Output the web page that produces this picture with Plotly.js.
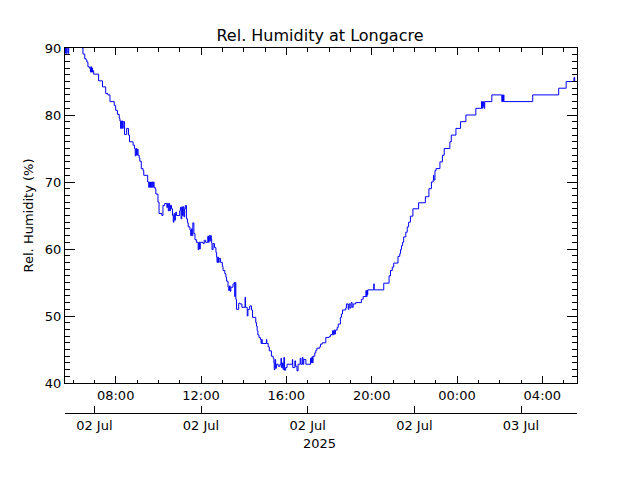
<!DOCTYPE html>
<html>
<head>
<meta charset="utf-8">
<script src="https://cdn.plot.ly/plotly-3.0.1.min.js"></script>
<style>html,body{margin:0;padding:0;background:#fff}#chart{width:640px;height:480px}</style>
</head>
<body>
<div id="chart"></div>
<script>
const times = [
'2025-07-02 05:37','2025-07-02 05:39','2025-07-02 05:41','2025-07-02 05:43','2025-07-02 05:46','2025-07-02 05:48',
'2025-07-02 06:25','2025-07-02 06:28','2025-07-02 06:33','2025-07-02 06:37','2025-07-02 06:39','2025-07-02 06:42',
'2025-07-02 06:46','2025-07-02 06:49','2025-07-02 06:50','2025-07-02 06:52','2025-07-02 06:53','2025-07-02 06:55',
'2025-07-02 06:56','2025-07-02 06:58','2025-07-02 07:12','2025-07-02 07:23','2025-07-02 07:32','2025-07-02 07:38',
'2025-07-02 07:44','2025-07-02 07:56','2025-07-02 08:00','2025-07-02 08:05','2025-07-02 08:10','2025-07-02 08:12',
'2025-07-02 08:14','2025-07-02 08:15','2025-07-02 08:17','2025-07-02 08:18','2025-07-02 08:20','2025-07-02 08:21',
'2025-07-02 08:25','2025-07-02 08:31','2025-07-02 08:36','2025-07-02 08:39','2025-07-02 08:49','2025-07-02 08:53',
'2025-07-02 08:55','2025-07-02 08:57','2025-07-02 08:59','2025-07-02 09:01','2025-07-02 09:03','2025-07-02 09:06',
'2025-07-02 09:08','2025-07-02 09:12','2025-07-02 09:17','2025-07-02 09:19','2025-07-02 09:30','2025-07-02 09:33',
'2025-07-02 09:35','2025-07-02 09:38','2025-07-02 09:41','2025-07-02 09:44','2025-07-02 09:46','2025-07-02 09:48',
'2025-07-02 09:51','2025-07-02 09:53','2025-07-02 09:59','2025-07-02 10:02','2025-07-02 10:10','2025-07-02 10:13',
'2025-07-02 10:18','2025-07-02 10:24','2025-07-02 10:26','2025-07-02 10:28','2025-07-02 10:30','2025-07-02 10:32',
'2025-07-02 10:34','2025-07-02 10:37','2025-07-02 10:40','2025-07-02 10:42','2025-07-02 10:44','2025-07-02 10:46',
'2025-07-02 10:48','2025-07-02 10:49','2025-07-02 10:51','2025-07-02 11:00','2025-07-02 11:02','2025-07-02 11:04',
'2025-07-02 11:06','2025-07-02 11:08','2025-07-02 11:10','2025-07-02 11:12','2025-07-02 11:14','2025-07-02 11:16',
'2025-07-02 11:19','2025-07-02 11:22','2025-07-02 11:24','2025-07-02 11:29','2025-07-02 11:31','2025-07-02 11:33',
'2025-07-02 11:35','2025-07-02 11:37','2025-07-02 11:40','2025-07-02 11:43','2025-07-02 11:47','2025-07-02 11:52',
'2025-07-02 11:54','2025-07-02 11:56','2025-07-02 11:58','2025-07-02 12:06','2025-07-02 12:09','2025-07-02 12:13',
'2025-07-02 12:19','2025-07-02 12:21','2025-07-02 12:23','2025-07-02 12:25','2025-07-02 12:27','2025-07-02 12:29',
'2025-07-02 12:30','2025-07-02 12:31','2025-07-02 12:34','2025-07-02 12:38','2025-07-02 12:42','2025-07-02 12:44',
'2025-07-02 12:45','2025-07-02 12:47','2025-07-02 12:49','2025-07-02 12:51','2025-07-02 12:55','2025-07-02 13:00',
'2025-07-02 13:02','2025-07-02 13:07','2025-07-02 13:10','2025-07-02 13:12','2025-07-02 13:16','2025-07-02 13:18',
'2025-07-02 13:20','2025-07-02 13:22','2025-07-02 13:24','2025-07-02 13:30','2025-07-02 13:34','2025-07-02 13:35',
'2025-07-02 13:36','2025-07-02 13:38','2025-07-02 13:40','2025-07-02 13:46','2025-07-02 13:50','2025-07-02 13:55',
'2025-07-02 14:04','2025-07-02 14:05','2025-07-02 14:10','2025-07-02 14:12','2025-07-02 14:17','2025-07-02 14:22',
'2025-07-02 14:25','2025-07-02 14:34','2025-07-02 14:36','2025-07-02 14:38','2025-07-02 14:40','2025-07-02 14:43',
'2025-07-02 14:47','2025-07-02 14:49','2025-07-02 14:51','2025-07-02 14:52','2025-07-02 15:04','2025-07-02 15:05',
'2025-07-02 15:09','2025-07-02 15:12','2025-07-02 15:18','2025-07-02 15:23','2025-07-02 15:25','2025-07-02 15:26',
'2025-07-02 15:28','2025-07-02 15:30','2025-07-02 15:32','2025-07-02 15:37','2025-07-02 15:42','2025-07-02 15:45',
'2025-07-02 15:46','2025-07-02 15:49','2025-07-02 15:51','2025-07-02 15:53','2025-07-02 15:55','2025-07-02 15:58',
'2025-07-02 16:02','2025-07-02 16:17','2025-07-02 16:18','2025-07-02 16:24','2025-07-02 16:26','2025-07-02 16:30',
'2025-07-02 16:33','2025-07-02 16:39','2025-07-02 16:41','2025-07-02 16:45','2025-07-02 16:47','2025-07-02 16:49',
'2025-07-02 16:55','2025-07-02 17:08','2025-07-02 17:11','2025-07-02 17:12','2025-07-02 17:14','2025-07-02 17:15',
'2025-07-02 17:20','2025-07-02 17:23','2025-07-02 17:26','2025-07-02 17:34','2025-07-02 17:36','2025-07-02 17:41',
'2025-07-02 17:51','2025-07-02 18:00','2025-07-02 18:04','2025-07-02 18:10','2025-07-02 18:12','2025-07-02 18:14',
'2025-07-02 18:16','2025-07-02 18:18','2025-07-02 18:23','2025-07-02 18:26','2025-07-02 18:32','2025-07-02 18:35',
'2025-07-02 18:38','2025-07-02 18:47','2025-07-02 18:49','2025-07-02 18:54','2025-07-02 18:56','2025-07-02 18:59',
'2025-07-02 19:02','2025-07-02 19:05','2025-07-02 19:08','2025-07-02 19:15','2025-07-02 19:31','2025-07-02 19:36',
'2025-07-02 19:44','2025-07-02 19:45','2025-07-02 19:47','2025-07-02 19:48','2025-07-02 19:49','2025-07-02 20:06',
'2025-07-02 20:07','2025-07-02 20:34','2025-07-02 20:49','2025-07-02 20:53','2025-07-02 20:58','2025-07-02 21:02',
'2025-07-02 21:14','2025-07-02 21:19','2025-07-02 21:21','2025-07-02 21:24','2025-07-02 21:27','2025-07-02 21:30',
'2025-07-02 21:36','2025-07-02 21:40','2025-07-02 21:44','2025-07-02 21:49','2025-07-02 21:56','2025-07-02 22:12',
'2025-07-02 22:31','2025-07-02 22:41','2025-07-02 22:48','2025-07-02 22:53','2025-07-02 22:54','2025-07-02 22:55',
'2025-07-02 22:58','2025-07-02 23:01','2025-07-02 23:12','2025-07-02 23:19','2025-07-02 23:24','2025-07-02 23:40',
'2025-07-02 23:44','2025-07-02 23:57','2025-07-03 00:10','2025-07-03 00:25','2025-07-03 00:53','2025-07-03 01:09',
'2025-07-03 01:10','2025-07-03 01:12','2025-07-03 01:13','2025-07-03 01:15','2025-07-03 01:16','2025-07-03 01:18',
'2025-07-03 01:38','2025-07-03 02:06','2025-07-03 02:08','2025-07-03 02:09','2025-07-03 02:11','2025-07-03 02:12',
'2025-07-03 03:33','2025-07-03 04:46','2025-07-03 05:07','2025-07-03 05:29','2025-07-03 05:31','2025-07-03 05:37'
];
const humidity = [
89.2,91,89.2,91,89.2,91,
90.0,89.1,88.4,88.2,87.9,87.2,
87.0,86.4,87.2,86.4,87.0,86.4,
86.6,86.1,85.1,84.2,83.2,83.0,
82.0,81.4,80.7,80.1,79.5,79.1,
78.0,79.1,78.0,79.1,78.0,79.0,
77.1,78.0,77.0,76.0,75.5,75.0,
73.9,75.0,74.0,74.9,74.0,73.6,
73.1,72.0,71.7,71.0,70.0,69.2,
70.0,69.2,70.0,69.2,70.0,69.2,
69.0,68.2,67.0,65.3,65.0,66.5,
66.8,66.2,66.8,65.7,66.8,65.7,
66.5,66.0,65.0,64.0,65.3,64.3,
65.2,65.5,65.0,65.7,66.2,64.5,
66.3,65.0,66.3,64.8,66.0,66.5,
64.5,63.9,63.3,62.8,62.0,63.0,
62.0,63.9,62.3,61.4,61.0,59.9,
61.0,60.0,61.0,60.8,61.3,61.0,
61.9,61.0,62.0,61.2,62.0,61.5,
60.9,59.9,60.8,60.2,59.5,58.8,
58.0,58.8,58.0,58.6,58.0,57.4,
56.8,56.3,55.8,55.2,54.3,53.8,
54.5,53.7,54.3,54.8,55.0,52.9,
55.0,52.5,51.0,51.9,51.8,51.3,
52.8,51.3,50.0,51.0,51.5,50.9,
49.8,49.0,48.5,47.8,47.2,46.8,
46.5,45.9,46.5,45.9,46.5,45.9,
45.4,44.8,44.0,43.7,43.0,42.0,
43.5,42.2,42.8,42.5,42.8,43.7,
42.3,43.0,42.0,43.8,41.9,42.3,
42.8,43.5,42.3,43.3,42.5,41.8,
42.8,43.7,42.8,43.8,42.8,43.5,
42.8,43.7,43.0,43.9,43.0,44.0,
44.5,44.9,45.2,45.4,45.8,46.0,
46.8,46.9,47.2,47.8,47.2,47.9,
47.3,47.9,48.3,48.8,49.8,50.3,
50.9,51.2,51.8,51.0,51.8,51.2,
52.0,51.3,51.8,52.0,52.5,52.9,
53.8,52.9,53.8,53.2,53.9,54.8,
53.9,54.9,56.0,56.8,57.3,57.9,
58.9,59.3,59.9,60.5,61.0,61.8,
62.5,63.3,64.0,64.9,66.0,66.9,
67.8,69.0,70.0,70.3,71.0,70.3,
71.7,72.0,73.0,74.0,75.0,76.0,
77.0,78.0,79.0,80.0,81.0,82.0,
81.0,82.0,81.3,82.0,81.0,82.0,
83.0,82.0,83.0,82.0,83.0,82.0,
83.0,84.0,85.0,85.6,85.0,85.0
];
// Secondary (date) axis ticks and labels
const dateTickTimes = ['2025-07-02 07:00','2025-07-02 12:00','2025-07-02 17:00','2025-07-02 22:00','2025-07-03 03:00'];
const dateTickLabels = ['02 Jul','02 Jul','02 Jul','02 Jul','03 Jul'];
const yearLabel = '2025';
const yearLabelTime = '2025-07-02 17:00';
const xRange = ['2025-07-02 05:37:30','2025-07-03 05:37:30'];

const traces = [
  {x: times, y: humidity, type: 'scatter', mode: 'lines', line: {color: '#0000ff', width: 1, shape: 'hv'}, xaxis: 'x', yaxis: 'y', hoverinfo: 'skip'},
  {x: times, y: humidity, type: 'scatter', mode: 'lines', line: {color: 'rgba(0,0,0,0)', width: 0}, xaxis: 'x2', yaxis: 'y', hoverinfo: 'skip'}
];

const layout = {
  width: 640, height: 480,
  margin: {l: 65, r: 63, t: 48, b: 67, pad: 0},
  paper_bgcolor: '#ffffff', plot_bgcolor: '#ffffff',
  font: {family: 'DejaVu Sans, sans-serif', size: 13, color: '#000'},
  showlegend: false,
  title: {text: 'Rel. Humidity at Longacre', font: {size: 16, color: '#000'}, x: 0.5, xanchor: 'center', xref: 'container', y: 1 - 35/480, yanchor: 'middle', yref: 'container'},
  xaxis: {
    type: 'date', range: xRange, anchor: 'y',
    showline: true, linecolor: '#000', linewidth: 1, mirror: 'ticks',
    ticks: 'inside', ticklen: 7, tickwidth: 1, tickcolor: '#000',
    tick0: '2025-07-02 00:00', dtick: 4*3600000, tickformat: '%H:%M',
    minor: {dtick: 3600000, tick0: '2025-07-02 00:00', ticks: 'inside', ticklen: 3.5, tickcolor: '#000', showgrid: false},
    showgrid: false, zeroline: false, automargin: false, fixedrange: true
  },
  xaxis2: {
    type: 'date', range: xRange, overlaying: 'x', anchor: 'free', position: 0, side: 'bottom',
    showline: true, linecolor: '#000', linewidth: 1,
    ticks: 'inside', ticklen: 7, tickwidth: 1, tickcolor: '#000',
    tickmode: 'array', tickvals: dateTickTimes, ticktext: dateTickLabels,
    showgrid: false, zeroline: false, automargin: false, fixedrange: true
  },
  yaxis: {
    domain: [30/365, 1], range: [40, 90], tick0: 0, dtick: 10,
    showline: true, linecolor: '#000', linewidth: 1, mirror: 'ticks',
    ticks: 'inside', ticklen: 10, tickwidth: 1, tickcolor: '#000',
    minor: {dtick: 1, ticks: 'inside', ticklen: 5, tickcolor: '#000', showgrid: false},
    title: {text: 'Rel. Humidity (%)', font: {size: 13, color: '#000'}, standoff: 8},
    showgrid: false, zeroline: false, automargin: false, fixedrange: true
  },
  annotations: [
    {text: yearLabel, x: yearLabelTime, xref: 'x', y: 0, yref: 'paper', xanchor: 'center', yanchor: 'middle', xshift: 12, yshift: -30, showarrow: false, font: {size: 13, color: '#000'}}
  ]
};

Plotly.newPlot('chart', traces, layout, {staticPlot: true, displayModeBar: false});
</script>
</body>
</html>
